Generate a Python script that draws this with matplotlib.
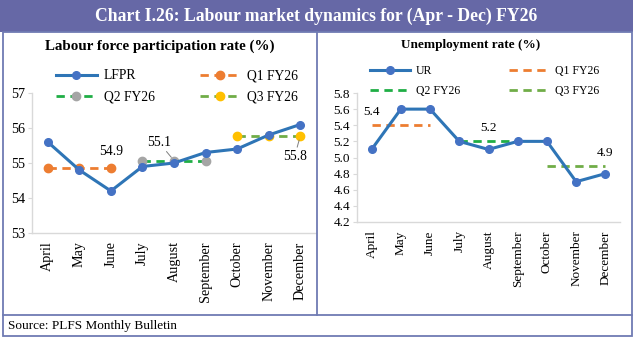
import matplotlib
matplotlib.use("Agg")
import matplotlib.pyplot as plt
from matplotlib.patches import Rectangle
from matplotlib.lines import Line2D
import numpy as np

months = ["April", "May", "June", "July", "August", "September", "October", "November", "December"]
lfpr = [55.6, 54.8, 54.2, 54.9, 55.0, 55.3, 55.4, 55.8, 56.1]
lfpr_q = [54.87, 55.07, 55.77]
lfpr_q_labels = ["54.9", "55.1", "55.8"]
ur = [5.1, 5.6, 5.6, 5.2, 5.1, 5.2, 5.2, 4.7, 4.8]
ur_q = [5.4, 5.2, 4.9]
ur_q_labels = ["5.4", "5.2", "4.9"]
quarters = ["Q1 FY26", "Q2 FY26", "Q3 FY26"]

W, H = 633, 337
plt.rcParams['font.family'] = ['Liberation Serif', 'DejaVu Serif']
fig = plt.figure(figsize=(W / 100, H / 100), dpi=100)

def fx(x): return x / W
def fy(y): return 1 - y / H

BORDER = "#6f7bb3"
BANNER = "#6668a6"
BLUE_L = "#2e75b6"
BLUE_M = "#4472c4"
ORANGE = "#ed7d31"
GREEN2 = "#1fae45"
GRAY = "#a5a5a5"
GREEN3 = "#70ad47"
YELLOW = "#ffc000"
AXC = "#d9d9d9"

# frame decorations
fig.patches.append(Rectangle((fx(0), fy(32)), 1, 32 / H, transform=fig.transFigure,
                             facecolor=BANNER, edgecolor='none', zorder=0))
fig.patches.append(Rectangle((fx(2.5), fy(335.5)), fx(629), (335.5 - 32) / H, transform=fig.transFigure,
                             facecolor='none', edgecolor=BORDER, lw=1.3, zorder=0))
fig.add_artist(Line2D([fx(317), fx(317)], [fy(32), fy(315)], transform=fig.transFigure, color=BORDER, lw=1.3))
fig.add_artist(Line2D([fx(2.5), fx(631.5)], [fy(315), fy(315)], transform=fig.transFigure, color=BORDER, lw=1.3))

fig.text(0.5, fy(16), "Chart I.26: Labour market dynamics for (Apr - Dec) FY26", color='white',
         fontsize=12.7, fontweight='bold', ha='center', va='center')
fig.text(fx(160), fy(46), "Labour force participation rate (%)", fontsize=10.8, fontweight='bold',
         ha='center', va='center')
fig.text(fx(471), fy(45), "Unemployment rate (%)", fontsize=9.5, fontweight='bold',
         ha='center', va='center')
fig.text(fx(8), fy(325.5), "Source: PLFS Monthly Bulletin", fontsize=9.5, ha='left', va='center')

x = np.arange(len(months))
qidx = [x[0:3], x[3:6], x[6:9]]

def style_axes(ax, fs):
    for s in ['top', 'right']:
        ax.spines[s].set_visible(False)
    ax.spines['left'].set_color(AXC)
    ax.spines['bottom'].set_color(AXC)
    ax.spines['left'].set_linewidth(1)
    ax.spines['bottom'].set_linewidth(1)
    ax.set_xlim(-0.5, 8.5)
    ax.set_xticks(x)
    ax.set_xticklabels(months, rotation=90, fontsize=fs)
    ax.tick_params(axis='x', length=0, pad=6)
    ax.tick_params(axis='y', length=3, color=AXC, labelsize=fs, pad=2)
    ax.set_facecolor('none')

# Left panel
ax1 = fig.add_axes([fx(32), fy(233), fx(316) - fx(32), (233 - 93) / H])
style_axes(ax1, 10.2)
ax1.set_ylim(53, 57)
ax1.set_yticks([53, 54, 55, 56, 57])
h_l = ax1.plot(x, lfpr, color=BLUE_L, lw=2.2, marker='o', ms=5.5, mfc=BLUE_M, mec=BLUE_M, label="LFPR", zorder=3)[0]
qcols = [(ORANGE, ORANGE), (GREEN2, GRAY), (GREEN3, YELLOW)]
hq = []
for i in range(3):
    lc, mc = qcols[i]
    h = ax1.plot(qidx[i], [lfpr_q[i]] * 3, color=lc, lw=2, ls=(0, (3, 2)), marker='o', ms=6,
                 mfc=mc, mec=mc, label=quarters[i], zorder=2)[0]
    hq.append(h)
ax1.annotate(lfpr_q_labels[0], (2, lfpr_q[0]), xytext=(0, 7), textcoords='offset points',
             ha='center', va='bottom', fontsize=9.8)
ax1.annotate(lfpr_q_labels[1], (4, lfpr_q[1]), xytext=(-11, 8.5), textcoords='offset points',
             ha='center', va='bottom', fontsize=9.8,
             arrowprops=dict(arrowstyle='-', color='#7f7f7f', lw=0.7, shrinkA=0, shrinkB=3))
ax1.annotate(lfpr_q_labels[2], (8, lfpr_q[2]), xytext=(-4, -10), textcoords='offset points',
             ha='center', va='top', fontsize=9.8,
             arrowprops=dict(arrowstyle='-', color='#7f7f7f', lw=0.7, shrinkA=0, shrinkB=3))
leg1 = ax1.legend([h_l, hq[1], hq[0], hq[2]], ["LFPR", quarters[1], quarters[0], quarters[2]],
                  ncol=2, loc='center left', bbox_to_anchor=(fx(56), fy(86.5)),
                  bbox_transform=fig.transFigure, frameon=False, fontsize=9.8,
                  handlelength=3.0, handletextpad=0.5, columnspacing=3.3, labelspacing=0.62,
                  borderaxespad=0, borderpad=0)

# Right panel
ax2 = fig.add_axes([fx(357), fy(222), fx(620) - fx(357), (222 - 93) / H])
style_axes(ax2, 9.5)
ax2.set_ylim(4.2, 5.8)
ax2.set_yticks(np.arange(4.2, 5.81, 0.2))
ax2.set_yticklabels([f"{v:.1f}" for v in np.arange(4.2, 5.81, 0.2)])
u_l = ax2.plot(x, ur, color=BLUE_L, lw=2.2, marker='o', ms=5.5, mfc=BLUE_M, mec=BLUE_M, label="UR", zorder=3)[0]
uq = []
ucols = [ORANGE, GREEN2, GREEN3]
for i in range(3):
    h = ax2.plot(qidx[i], [ur_q[i]] * 3, color=ucols[i], lw=2, ls=(0, (3, 2)), label=quarters[i], zorder=2)[0]
    uq.append(h)
ax2.annotate(ur_q_labels[0], (0, ur_q[0]), xytext=(0, 5.5), textcoords='offset points',
             ha='center', va='bottom', fontsize=9.5)
ax2.annotate(ur_q_labels[1], (4, ur_q[1]), xytext=(0, 5.5), textcoords='offset points',
             ha='center', va='bottom', fontsize=9.5)
ax2.annotate(ur_q_labels[2], (8, ur_q[2]), xytext=(0, 5), textcoords='offset points',
             ha='center', va='bottom', fontsize=9.5)
leg2 = ax2.legend([u_l, uq[1], uq[0], uq[2]], ["UR", quarters[1], quarters[0], quarters[2]],
                  ncol=2, loc='center left', bbox_to_anchor=(fx(370), fy(81)),
                  bbox_transform=fig.transFigure, frameon=False, fontsize=8.5,
                  handlelength=3.4, handletextpad=0.5, columnspacing=4.1, labelspacing=0.7,
                  borderaxespad=0, borderpad=0)

fig.savefig("out.png", dpi=100)
